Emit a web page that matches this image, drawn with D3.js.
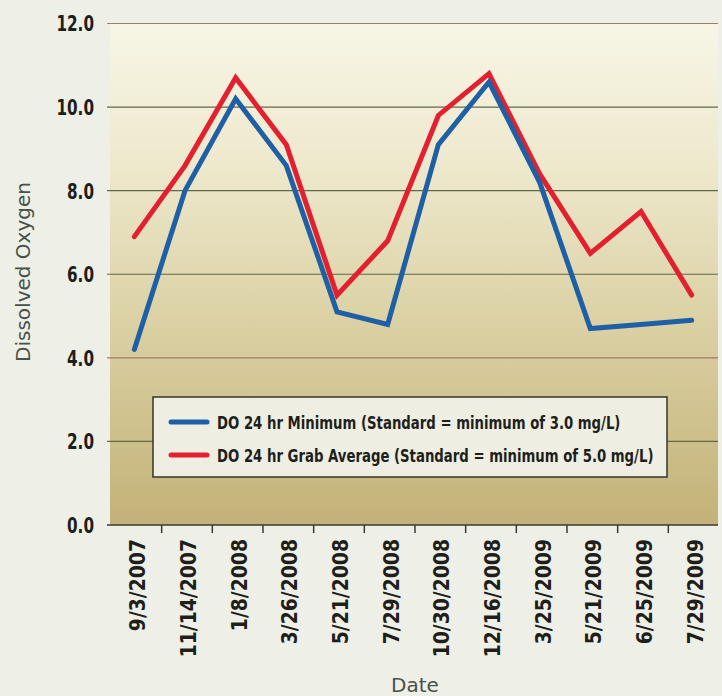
<!DOCTYPE html>
<html>
<head>
<meta charset="utf-8">
<script src="https://cdn.jsdelivr.net/npm/d3@7"></script>
<style>
  body { margin: 0; background: #eef0e8; }
  svg { display: block; }
</style>
</head>
<body>
<div id="chart-area"></div>
<script>
// chart data
var dates = ["9/3/2007", "11/14/2007", "1/8/2008", "3/26/2008", "5/21/2008", "7/29/2008",
  "10/30/2008", "12/16/2008", "3/25/2009", "5/21/2009", "6/25/2009", "7/29/2009"];
var doMinimum = [4.2, 8.0, 10.2, 8.6, 5.1, 4.8, 9.1, 10.6, 8.2, 4.7, 4.8, 4.9];
var doGrabAverage = [6.9, 8.6, 10.7, 9.1, 5.5, 6.8, 9.8, 10.8, 8.4, 6.5, 7.5, 5.5];
var yTicks = [0, 2, 4, 6, 8, 10, 12];
var seriesNames = ["DO 24 hr Minimum (Standard = minimum of 3.0 mg/L)",
  "DO 24 hr Grab Average (Standard = minimum of 5.0 mg/L)"];

// no narrow font installed, so condensed text is squeezed with a scale
var condensed = "'DejaVu Sans Condensed', 'DejaVu Sans', sans-serif";

LineChart = function (_parentElement) {
  this.parentElement = _parentElement;
  this.initVis();
};

LineChart.prototype.initVis = function () {
  var vis = this;

  vis.left = 110;
  vis.right = 718;
  vis.top = 23.5;
  vis.bottom = 525;

  vis.svg = d3.select(vis.parentElement)
    .append("svg")
    .attr("width", 722)
    .attr("height", 696);

  vis.svg.append("rect")
    .attr("width", 722)
    .attr("height", 696)
    .attr("fill", "#eef0e8");

  // background gradient of the plot
  var grad = vis.svg.append("defs")
    .append("linearGradient")
    .attr("id", "plot-bg")
    .attr("x1", 0).attr("y1", 0)
    .attr("x2", 0).attr("y2", 1);
  grad.append("stop").attr("offset", "0%").attr("stop-color", "#f7f5e6");
  grad.append("stop").attr("offset", "28%").attr("stop-color", "#eee9cd");
  grad.append("stop").attr("offset", "58%").attr("stop-color", "#dcd2a6");
  grad.append("stop").attr("offset", "100%").attr("stop-color", "#c3b277");

  vis.svg.append("rect")
    .attr("x", vis.left)
    .attr("y", vis.top)
    .attr("width", vis.right - vis.left)
    .attr("height", vis.bottom - vis.top)
    .attr("fill", "url(#plot-bg)");

  vis.xScale = d3.scaleBand()
    .domain(dates)
    .range([109, 717])
    .padding(0);

  vis.yScale = d3.scaleLinear()
    .domain([0, 12])
    .range([vis.bottom, vis.top]);

  vis.updateVis();
};

LineChart.prototype.updateVis = function () {
  var vis = this;

  /* grid lines */
  vis.svg.append("g")
    .attr("class", "grid")
    .selectAll("line")
    .data(yTicks.filter(d => d > 0))
    .enter()
    .append("line")
    .attr("x1", vis.left - 3)
    .attr("x2", vis.right)
    .attr("y1", d => vis.yScale(d))
    .attr("y2", d => vis.yScale(d))
    .attr("stroke", d => (d === 12 || d === 4) ? "#a07a66" : "#5f6a4a")
    .attr("stroke-width", 1.2);

  /* y axis labels */
  vis.svg.append("g")
    .selectAll("text")
    .data(yTicks)
    .enter()
    .append("text")
    .attr("transform", d => "translate(94," + vis.yScale(d) + ") scale(0.77,1)")
    .attr("dy", "0.36em")
    .attr("text-anchor", "end")
    .attr("font-family", condensed)
    .attr("font-weight", "bold")
    .attr("font-size", "22px")
    .attr("fill", "#1e1e1a")
    .text(d => d.toFixed(1));

  /* x axis */
  var xAxis = vis.svg.append("g").attr("class", "x-axis");
  xAxis.append("line")
    .attr("x1", vis.left - 3)
    .attr("x2", vis.right)
    .attr("y1", vis.bottom)
    .attr("y2", vis.bottom)
    .attr("stroke", "#3a3a2c")
    .attr("stroke-width", 1.5);

  xAxis.selectAll(".tick")
    .data(dates.slice(1))
    .enter()
    .append("line")
    .attr("class", "tick")
    .attr("x1", d => vis.xScale(d) + 2)
    .attr("x2", d => vis.xScale(d) + 2)
    .attr("y1", vis.bottom)
    .attr("y2", vis.bottom + 8)
    .attr("stroke", "#3a3a2c")
    .attr("stroke-width", 1.5);

  xAxis.selectAll(".label")
    .data(dates)
    .enter()
    .append("text")
    .attr("class", "label")
    .attr("transform", d => "translate(" + (vis.xScale(d) + vis.xScale.bandwidth() / 2 + 3) + "," + 539 + ") rotate(-90) scale(0.95,1)")
    .attr("dy", "0.36em")
    .attr("text-anchor", "end")
    .attr("font-family", condensed)
    .attr("font-weight", "bold")
    .attr("font-size", "22px")
    .attr("fill", "#1e1e1a")
    .text(d => d);

  /* axis titles */
  vis.svg.append("text")
    .attr("transform", "translate(30,272) rotate(-90)")
    .attr("text-anchor", "middle")
    .attr("font-family", "'DejaVu Sans', sans-serif")
    .attr("font-size", "20px")
    .attr("fill", "#46524a")
    .text("Dissolved Oxygen");

  vis.svg.append("text")
    .attr("x", 415)
    .attr("y", 692)
    .attr("text-anchor", "middle")
    .attr("font-family", "'DejaVu Sans', sans-serif")
    .attr("font-size", "20px")
    .attr("fill", "#46524a")
    .text("Date");

  /* lines */
  vis.line = d3.line()
    .x((d, i) => vis.xScale(dates[i]) + vis.xScale.bandwidth() / 2)
    .y(d => vis.yScale(d));

  var series = [
    { values: doGrabAverage, color: "#e3202f" },
    { values: doMinimum, color: "#1f5fa6" }
  ];

  vis.svg.append("g")
    .attr("class", "lines")
    .selectAll("path")
    .data(series)
    .enter()
    .append("path")
    .attr("d", d => vis.line(d.values))
    .attr("fill", "none")
    .attr("stroke", d => d.color)
    .attr("stroke-width", 5)
    .attr("stroke-linejoin", "miter")
    .attr("stroke-linecap", "round");

  /* legend */
  var legend = vis.svg.append("g").attr("class", "legend");
  legend.append("rect")
    .attr("x", 153)
    .attr("y", 397)
    .attr("width", 514)
    .attr("height", 80)
    .attr("fill", "#eeeee3")
    .attr("stroke", "#34342a")
    .attr("stroke-width", 1.5);

  var legendColors = ["#1f5fa6", "#e3202f"];
  var rows = legend.selectAll(".row")
    .data(seriesNames)
    .enter()
    .append("g")
    .attr("class", "row")
    .attr("transform", (d, i) => "translate(0," + (422 + i * 33) + ")");

  rows.append("line")
    .attr("x1", 171)
    .attr("x2", 207)
    .attr("stroke", (d, i) => legendColors[i])
    .attr("stroke-width", 5)
    .attr("stroke-linecap", "round");

  rows.append("text")
    .attr("transform", "translate(217,7) scale(0.82,1)")
    .attr("font-family", condensed)
    .attr("font-weight", "bold")
    .attr("font-size", "18px")
    .attr("fill", "#1e1e1a")
    .text(d => d);
};

new LineChart("#chart-area");
</script>
</body>
</html>
